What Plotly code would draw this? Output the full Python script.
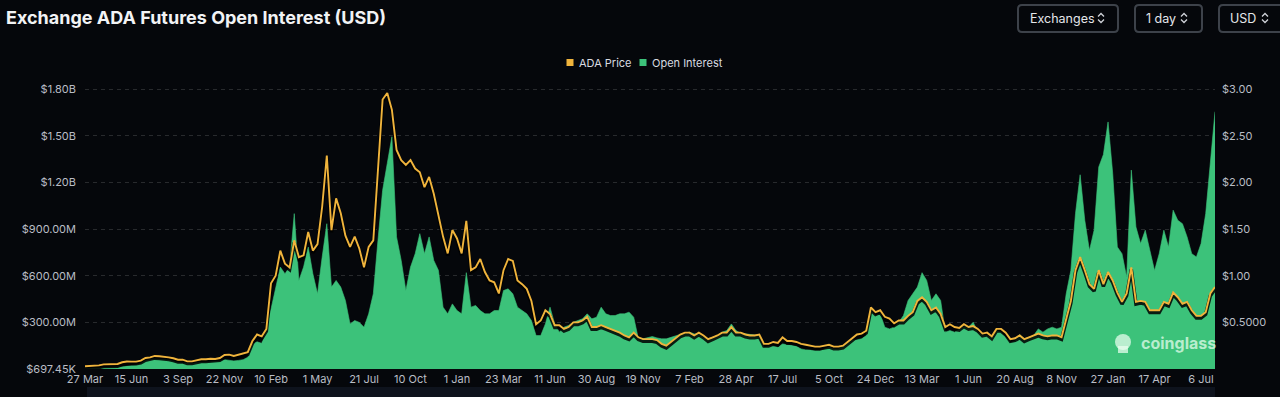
import plotly.graph_objects as go
import pandas as pd

# ---------------- data ----------------
START_DATE = "2020-03-27"
STEP_DAYS = 8

TICK_LABELS = ["27 Mar", "15 Jun", "3 Sep", "22 Nov", "10 Feb", "1 May", "21 Jul", "10 Oct",
               "1 Jan", "23 Mar", "11 Jun", "30 Aug", "19 Nov", "7 Feb", "28 Apr", "17 Jul",
               "5 Oct", "24 Dec", "13 Mar", "1 Jun", "20 Aug", "8 Nov", "27 Jan", "17 Apr", "6 Jul"]

# Open interest, millions of USD (one value every 8 days)
OI_MUSD = [
    0.7, 2, 3, 5, 6, 8, 10, 12, 15, 20, 22, 25, 35, 55, 60, 65, 62, 60, 58, 50,
    40, 38, 35, 33, 40, 42, 42, 44, 45, 50, 60, 58, 52, 55, 60, 75, 160, 175, 165, 250,
    380,
    527, 656, 613, 656, 1000, 570, 656, 785, 613, 484, 720, 935, 527, 570, 527, 441, 290, 312, 300, 269,
    355, 484, 828, 1150, 1323, 1495, 850, 699, 505, 656, 742, 871, 742, 850, 699, 635, 398, 355, 419, 376,
    355, 620, 398, 409, 376, 355, 355, 376, 376, 505, 516, 484, 398, 376, 355, 312, 215, 215, 290, 398,
    290, 237, 269, 280, 301, 312, 323, 355, 323, 333, 398, 355, 344, 344, 355, 355, 366, 333, 194, 194,
    204, 209, 200, 194, 194, 204, 215, 226, 232, 237, 226, 226, 204, 194, 204, 215, 237, 247, 290, 247,
    230, 226, 221, 221, 215, 140, 144, 150, 140, 161, 157, 150, 146, 129, 123, 123, 118, 118, 129, 140,
    129, 129, 150, 172, 187, 187, 194, 215, 376, 344, 355, 269, 258, 269, 301, 344, 441, 484, 527, 620,
    570, 441, 484, 441, 237, 247, 237, 258, 273, 269, 301, 237, 221, 215, 204, 247, 237, 204, 172, 178,
    221, 194, 204, 215, 258, 237, 258, 269, 258, 269, 484, 634, 1000, 1250, 957, 763, 893, 1300, 1380, 1590,
    1260, 785, 742, 592, 1280, 914, 807, 893, 763, 634, 742, 893, 785, 1022, 957, 935, 850, 742, 721, 807,
    1000, 1323, 1656,
]

# ADA price, USD (same dates)
ADA_PRICE = [
    0.029, 0.030, 0.032, 0.039, 0.050, 0.050, 0.050, 0.054, 0.072, 0.080, 0.079, 0.079, 0.090, 0.118, 0.125, 0.140, 0.136, 0.133, 0.125, 0.115,
    0.100, 0.100, 0.082, 0.082, 0.097, 0.104, 0.104, 0.110, 0.107, 0.118, 0.150, 0.154, 0.140, 0.154, 0.160, 0.180, 0.300, 0.370, 0.350, 0.430,
    0.92,
    1.00, 1.27, 1.13, 1.09, 1.38, 1.20, 1.22, 1.47, 1.27, 1.34, 1.74, 2.29, 1.49, 1.83, 1.67, 1.43, 1.31, 1.42, 1.29, 1.09,
    1.31, 1.38, 2.19, 2.89, 2.96, 2.78, 2.35, 2.24, 2.19, 2.24, 2.15, 2.11, 1.95, 2.06, 1.88, 1.63, 1.42, 1.24, 1.49, 1.40,
    1.24, 1.59, 1.06, 1.09, 1.18, 1.04, 0.95, 0.93, 0.81, 1.06, 1.18, 1.16, 0.95, 0.91, 0.86, 0.73, 0.48, 0.52, 0.63, 0.59,
    0.47, 0.47, 0.43, 0.45, 0.50, 0.50, 0.52, 0.56, 0.45, 0.45, 0.47, 0.45, 0.43, 0.41, 0.39, 0.36, 0.34, 0.39, 0.34, 0.32,
    0.32, 0.32, 0.31, 0.27, 0.25, 0.29, 0.34, 0.37, 0.39, 0.39, 0.36, 0.39, 0.36, 0.32, 0.34, 0.36, 0.39, 0.39, 0.45, 0.39,
    0.39, 0.37, 0.36, 0.36, 0.37, 0.27, 0.27, 0.29, 0.28, 0.34, 0.30, 0.30, 0.29, 0.27, 0.26, 0.25, 0.24, 0.24, 0.25, 0.26,
    0.24, 0.24, 0.25, 0.29, 0.34, 0.37, 0.38, 0.41, 0.66, 0.61, 0.63, 0.56, 0.54, 0.49, 0.52, 0.52, 0.57, 0.61, 0.73, 0.77,
    0.72, 0.63, 0.66, 0.59, 0.45, 0.48, 0.45, 0.44, 0.48, 0.45, 0.46, 0.43, 0.38, 0.39, 0.35, 0.43, 0.43, 0.39, 0.32, 0.33,
    0.36, 0.32, 0.34, 0.36, 0.38, 0.36, 0.35, 0.36, 0.36, 0.34, 0.52, 0.73, 1.06, 1.20, 1.06, 0.91, 0.86, 1.06, 0.91, 1.04,
    0.95, 0.82, 0.72, 0.81, 1.09, 0.72, 0.73, 0.72, 0.63, 0.63, 0.63, 0.72, 0.70, 0.82, 0.77, 0.70, 0.72, 0.63, 0.57, 0.57,
    0.61, 0.81, 0.88,
]

LEFT_TICK_VALS = [697450, 300e6, 600e6, 900e6, 1.2e9, 1.5e9, 1.8e9]
LEFT_TICK_TEXT = ["$697.45K", "$300.00M", "$600.00M", "$900.00M", "$1.20B", "$1.50B", "$1.80B"]
RIGHT_TICK_VALS = [0.5, 1.0, 1.5, 2.0, 2.5, 3.0]
RIGHT_TICK_TEXT = ["$0.5000", "$1.00", "$1.50", "$2.00", "$2.50", "$3.00"]

TITLE = "Exchange ADA Futures Open Interest (USD)"
BUTTONS = ["Exchanges", "1 day", "USD"]
SERIES_NAMES = ["ADA Price", "Open Interest"]

# ---------------- styling ----------------
BG = "#05070b"
GREEN = "#3cc27a"
ORANGE = "#f0b43c"
TICK_COLOR = "#b9bdc5"
FONT = "Inter, Roboto, 'Noto Sans', sans-serif"

W, H = 1280, 397
ML, MR, MT, MB = 85, 65, 85, 28
PW, PH = W - ML - MR, H - MT - MB


def xp(px):
    return (px - ML) / PW


def yp(py):
    return (H - MB - py) / PH


dates = pd.date_range(START_DATE, periods=len(OI_MUSD), freq=f"{STEP_DAYS}D")
oi_usd = [v * 1e6 for v in OI_MUSD]

LEFT_MAX = 1.8e9 * PH / (H - MB - 89.3)
RIGHT_MAX = 3.0 * PH / (H - MB - 89.3)
SHADOW_SHIFT = 2.2 * RIGHT_MAX / PH

fig = go.Figure()
fig.add_trace(go.Scatter(
    x=dates, y=oi_usd, name=SERIES_NAMES[1], mode="lines",
    line=dict(color=GREEN, width=0.6), fill="tozeroy", fillcolor=GREEN,
    yaxis="y", showlegend=False,
))
fig.add_trace(go.Scatter(
    x=dates, y=ADA_PRICE, name="shadow", mode="lines",
    line=dict(color="rgba(0,0,0,0.85)", width=3.5), yaxis="y2",
    showlegend=False, hoverinfo="skip",
))
fig.add_trace(go.Scatter(
    x=dates, y=ADA_PRICE, name=SERIES_NAMES[0], mode="lines",
    line=dict(color=ORANGE, width=1.9), yaxis="y3", showlegend=False,
))

fig.update_layout(
    width=W, height=H,
    margin=dict(l=ML, r=MR, t=MT, b=MB),
    paper_bgcolor=BG, plot_bgcolor=BG,
    font=dict(family=FONT, size=11, color=TICK_COLOR),
    showlegend=False,
    xaxis=dict(
        type="date", range=[dates[0], dates[-1]],
        tickvals=list(dates[::10]), ticktext=TICK_LABELS,
        showgrid=False, zeroline=False, showline=False, ticks="",
        tickfont=dict(size=11, color=TICK_COLOR), ticklabelstandoff=2,
    ),
    yaxis=dict(
        range=[0, LEFT_MAX], tickvals=LEFT_TICK_VALS, ticktext=LEFT_TICK_TEXT,
        showgrid=True, gridcolor="rgba(255,255,255,0.14)", griddash="4px,4px", gridwidth=1,
        zeroline=False, showline=False, ticks="", ticklabelstandoff=8,
        tickfont=dict(size=11, color=TICK_COLOR),
    ),
    yaxis2=dict(
        overlaying="y", side="right", visible=False,
        range=[SHADOW_SHIFT, RIGHT_MAX + SHADOW_SHIFT],
    ),
    yaxis3=dict(
        overlaying="y", side="right", range=[0, RIGHT_MAX],
        tickvals=RIGHT_TICK_VALS, ticktext=RIGHT_TICK_TEXT,
        showgrid=False, zeroline=False, showline=False, ticks="", ticklabelstandoff=6,
        tickfont=dict(size=11, color=TICK_COLOR),
    ),
)

shapes = []
annotations = []

# title
annotations.append(dict(
    text=f"<b>{TITLE}</b>", xref="paper", yref="paper", x=xp(4), y=yp(17),
    xanchor="left", yanchor="middle", showarrow=False,
    font=dict(family=FONT, size=18, color="#f2f3f5"),
))


def rrect(x0, y0, x1, y1, r):
    pts = [
        ("M", [(x0 + r, y0)]), ("L", [(x1 - r, y0)]), ("Q", [(x1, y0), (x1, y0 + r)]),
        ("L", [(x1, y1 - r)]), ("Q", [(x1, y1), (x1 - r, y1)]), ("L", [(x0 + r, y1)]),
        ("Q", [(x0, y1), (x0, y1 - r)]), ("L", [(x0, y0 + r)]), ("Q", [(x0, y0), (x0 + r, y0)]),
    ]
    s = ""
    for cmd, ps in pts:
        s += cmd + " " + " ".join(f"{xp(a):.5f},{yp(b):.5f}" for a, b in ps) + " "
    return s + "Z"


def chevrons(cx, cy):
    up = f"M {xp(cx-3):.5f},{yp(cy-1.5):.5f} L {xp(cx):.5f},{yp(cy-4.5):.5f} L {xp(cx+3):.5f},{yp(cy-1.5):.5f}"
    dn = f"M {xp(cx-3):.5f},{yp(cy+1.5):.5f} L {xp(cx):.5f},{yp(cy+4.5):.5f} L {xp(cx+3):.5f},{yp(cy+1.5):.5f}"
    return [up, dn]


# dropdown-like buttons
button_boxes = [(1018, 1118, 1028, 1101), (1135, 1202, 1144, 1184), (1219, 1290, 1228, 1265)]
for label, (bx0, bx1, tx, cx) in zip(BUTTONS, button_boxes):
    shapes.append(dict(type="path", path=rrect(bx0, 5, bx1, 32, 4), xref="paper", yref="paper",
                       line=dict(color="#3d424a", width=2), fillcolor=BG, layer="above"))
    annotations.append(dict(text=label, xref="paper", yref="paper", x=xp(tx), y=yp(18),
                            xanchor="left", yanchor="middle", showarrow=False,
                            font=dict(family=FONT, size=12.5, color="#e4e6ea")))
    for p in chevrons(cx, 18):
        shapes.append(dict(type="path", path=p, xref="paper", yref="paper",
                           line=dict(color="#cfd2d8", width=1.3), layer="above"))

# legend (custom)
legend_items = [(SERIES_NAMES[0], ORANGE, 570, 577), (SERIES_NAMES[1], GREEN, 643, 650)]
for name, color, sx, tx in legend_items:
    shapes.append(dict(type="rect", xref="paper", yref="paper",
                       x0=xp(sx - 3.5), x1=xp(sx + 3.5), y0=yp(59), y1=yp(66),
                       fillcolor=color, line=dict(width=0), layer="above"))
    annotations.append(dict(text=name, xref="paper", yref="paper", x=xp(tx), y=yp(62.5),
                            xanchor="left", yanchor="middle", showarrow=False,
                            font=dict(family=FONT, size=11, color="#d8dbe0")))

# watermark
annotations.append(dict(text="<b>coinglass</b>", xref="paper", yref="paper", x=xp(1139), y=yp(343),
                        xanchor="left", yanchor="middle", showarrow=False,
                        font=dict(family=FONT, size=16, color="rgba(235,255,240,0.72)")))
shapes.append(dict(type="circle", xref="paper", yref="paper",
                   x0=xp(1115), x1=xp(1131), y0=yp(334), y1=yp(350),
                   fillcolor="rgba(235,255,240,0.72)", line=dict(width=0), layer="above"))
shapes.append(dict(type="rect", xref="paper", yref="paper",
                   x0=xp(1118), x1=xp(1128), y0=yp(346), y1=yp(353),
                   fillcolor="rgba(235,255,240,0.72)", line=dict(width=0), layer="above"))

# navigator strip at the bottom
shapes.append(dict(type="rect", xref="paper", yref="paper",
                   x0=xp(87), x1=xp(1215), y0=yp(397), y1=yp(387),
                   fillcolor="#0e131d", line=dict(width=0), layer="below"))

fig.update_layout(shapes=shapes, annotations=annotations)

fig.write_html("out.html",
               config={"displayModeBar": False},
               post_script="document.body.style.margin='0';document.body.style.overflow='hidden';")
